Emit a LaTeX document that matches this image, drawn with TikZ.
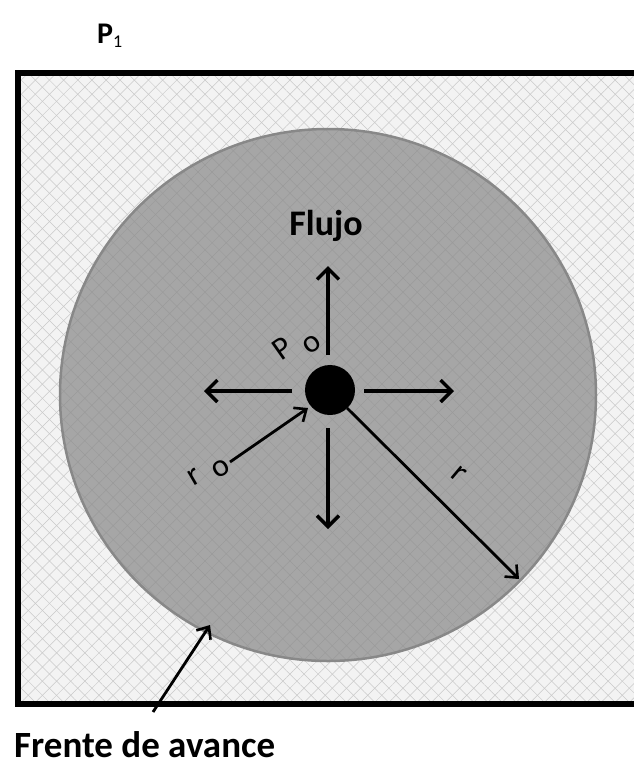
\documentclass[tikz,border=0pt]{standalone}
\usepackage{fontspec}
\setmainfont{Carlito}
\usetikzlibrary{patterns.meta,arrows.meta}
\definecolor{disk}{HTML}{A6A6A6}
\definecolor{diskhatch}{HTML}{9A9A9A}
\definecolor{diskedge}{HTML}{888888}
\definecolor{bgfill}{HTML}{F3F3F3}
\definecolor{hatch}{HTML}{C9C9C9}
\tikzset{
  arr/.style={line width=4pt,-{Straight Barb[length=11pt,width=22pt,line width=3.4pt]}},
  thinarr/.style={line width=2.8pt,-{Straight Barb[length=10pt,width=17pt,line width=2.6pt]}},
  lbl/.style={font=\bfseries\fontsize{36}{40}\selectfont, inner sep=0pt},
  hand/.style={font=\fontsize{32}{36}\selectfont, inner sep=0pt},
}
\begin{document}
\begin{tikzpicture}[x=1pt,y=-1pt]
\useasboundingbox (0,0) rectangle (634,766);
% outer region
\fill[bgfill] (18,73) rectangle (634,704);
\fill[pattern={Lines[angle=45,distance=10pt,line width=0.5pt]},pattern color=hatch] (18,73) rectangle (634,704);
\fill[pattern={Lines[angle=-45,distance=10pt,line width=0.5pt]},pattern color=hatch] (18,73) rectangle (634,704);
% disk
\fill[disk] (328,395) ellipse [x radius=268, y radius=266];
\fill[pattern={Lines[angle=45,distance=10pt,line width=0.5pt]},pattern color=diskhatch] (328,395) ellipse [x radius=268, y radius=266];
\fill[pattern={Lines[angle=-45,distance=10pt,line width=0.5pt]},pattern color=diskhatch] (328,395) ellipse [x radius=268, y radius=266];
\draw[diskedge,line width=2.5pt] (328,395) ellipse [x radius=268, y radius=266];
% frame
\draw[line width=5.5pt] (634,73) -- (18,73) -- (18,704) -- (634,704);
% well
\fill (330,390) circle (25);
\coordinate (upS) at (328,355); \coordinate (upE) at (328,266);
\coordinate (lfS) at (292,391); \coordinate (lfE) at (204,391);
\coordinate (rtS) at (364,391); \coordinate (rtE) at (454,391);
\coordinate (dnS) at (328,428); \coordinate (dnE) at (328,529);
\draw[arr] (upS) -- (upE);
\draw[arr] (lfS) -- (lfE);
\draw[arr] (rtS) -- (rtE);
\draw[arr] (dnS) -- (dnE);
\coordinate (r0S) at (230,462); \coordinate (r0E) at (308,408);
\draw[thinarr] (r0S) -- (r0E);
\coordinate (rS) at (347,408); \coordinate (rE) at (519,579);
\draw[thinarr] (rS) -- (rE);
\coordinate (fS) at (153,712); \coordinate (fE) at (210,625);
\draw[thinarr] (fS) -- (fE);
% labels
\node[lbl] (flujo) at (326,226) {Flujo};
\node[hand,rotate=35] (p0a) at (282,348) {P};
\node[hand,rotate=35] (p0b) at (312,344) {o};
\node[hand,rotate=30] (r0a) at (194,477) {r};
\node[hand,rotate=30] (r0b) at (221,469) {o};
\node[hand,rotate=-40] (r) at (459,474) {r};
\node[font=\bfseries\fontsize{37}{40}\selectfont,inner sep=0pt,anchor=base west] (frente) at (14,757) {Frente de avance};
\node[font=\bfseries\fontsize{30}{34}\selectfont,inner sep=0pt] (p1) at (110,36) {P\textsubscript{\normalfont\fontsize{18}{20}\selectfont 1}};
\end{tikzpicture}
\end{document}
